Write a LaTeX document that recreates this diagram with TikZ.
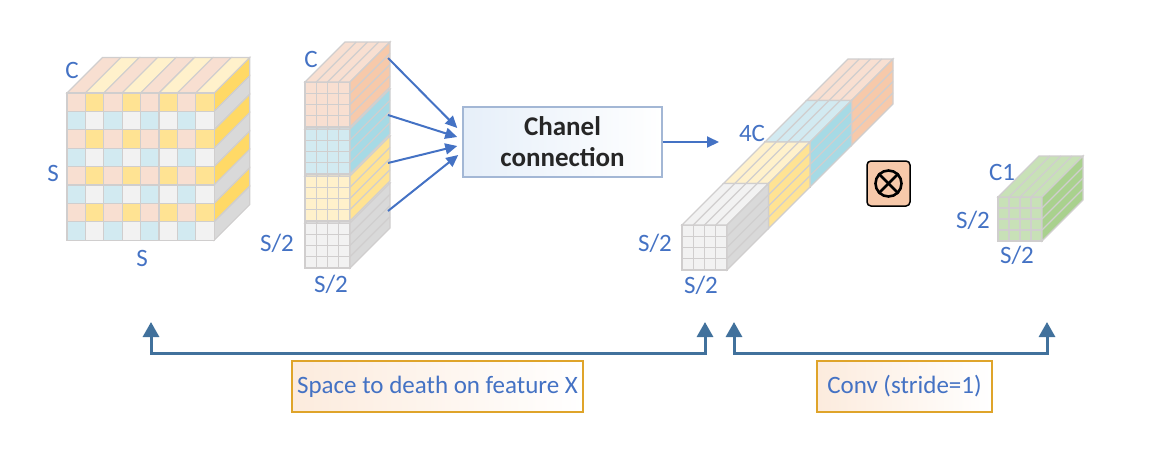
\documentclass[tikz,border=0pt]{standalone}
\usepackage{fontspec}
\setmainfont{Carlito}
\usepackage{tikz}
\usepackage{xcolor}
\usetikzlibrary{arrows.meta,calc}

\definecolor{labelblue}{HTML}{4472C4}
\definecolor{bracketblue}{HTML}{41719C}
\definecolor{gridgray}{HTML}{D0CECE}
\definecolor{boxgold}{HTML}{DFA42A}
\definecolor{boxpeach}{HTML}{FCEBDD}
\definecolor{chanelline}{HTML}{A3B7D5}
\definecolor{chanelfill}{HTML}{E6EFF9}
\definecolor{peach}{HTML}{F8DFD1}
\definecolor{peachside}{HTML}{F7C9AA}
\definecolor{sun}{HTML}{FFE393}
\definecolor{sunlight}{HTML}{FFF1CB}
\definecolor{sunside}{HTML}{FFD966}
\definecolor{sky}{HTML}{D2EAF1}
\definecolor{skyside}{HTML}{A6DAE5}
\definecolor{ash}{HTML}{F2F2F2}
\definecolor{ashside}{HTML}{D9D9D9}
\definecolor{leaf}{HTML}{C8E1B7}
\definecolor{leafside}{HTML}{A9D18E}
\colorlet{cell0}{peach}
\colorlet{cell1}{sun}
\colorlet{cell2}{sky}
\colorlet{cell3}{ash}
\colorlet{strip0}{peach}
\colorlet{strip1}{sunlight}
\colorlet{side0}{sunside}
\colorlet{side1}{ashside}

\tikzset{
    face/.style={draw=gridgray, line width=1.1pt},
    dimlabel/.style={text=labelblue, font=\fontsize{25}{27}\selectfont, inner sep=0pt},
    feed/.style={draw=labelblue, line width=2pt, -{Triangle[width=11pt,length=12pt]}},
    bracket/.style={draw=bracketblue, line width=3pt, {Triangle[width=16pt,length=15pt]}-{Triangle[width=16pt,length=15pt]}},
    stepbox/.style={draw=boxgold, line width=2pt, left color=boxpeach, right color=white, text=labelblue, font=\fontsize{25}{27}\selectfont, minimum height=51pt, inner sep=0pt},
}

% x, y, size, depth, front, top, side
\newcommand{\featblock}[7]{%
    \path[face, fill=#5] (#1,#2) rectangle ++(#3,#3);
    \path[face, fill=#6] (#1,#2) -- ++(#3,0) -- ++(#4,-#4) -- ++(-#3,0) -- cycle;
    \path[face, fill=#7] (#1+#3,#2) -- ++(#4,-#4) -- ++(0,#3) -- ++(-#4,#4) -- cycle;
    \foreach \k in {1,2,3} {
        \draw[face] (#1+\k*#3/4,#2) -- ++(0,#3);
        \draw[face] (#1,#2+\k*#3/4) -- ++(#3,0);
        \draw[face] (#1+\k*#3/4,#2) -- ++(#4,-#4);
        \draw[face] (#1+#3,#2+\k*#3/4) -- ++(#4,-#4);
    }
}

\begin{document}
\begin{tikzpicture}[x=1pt, y=-1pt]
            \useasboundingbox (0,0) rectangle (1168,451);

            \foreach \i in {0,...,7} {
                \pgfmathtruncatemacro\k{mod(\i,2)}
                \path[face, fill=strip\k] (67+\i*18.4,93) -- ++(18.4,0) -- ++(35.5,-35.5) -- ++(-18.4,0) -- cycle;
                \path[face, fill=side\k] (214.2,93+\i*18.4) -- ++(35.5,-35.5) -- ++(0,18.4) -- ++(-35.5,35.5) -- cycle;
                \foreach \j in {0,...,7} {
                    \pgfmathtruncatemacro\c{mod(\i,2)+2*mod(\j,2)}
                    \path[face, fill=cell\c] (67+\i*18.4,93+\j*18.4) rectangle ++(18.4,18.4);
                }
            }

            \featblock{305}{223}{45}{40}{ash}{ash}{ashside}
            \featblock{305}{176}{45}{40}{sunlight}{sunlight}{sun}
            \featblock{305}{129}{45}{40}{sky}{sky}{skyside}
            \featblock{305}{82}{45}{40}{peach}{peach}{peachside}

            \node[draw=chanelline, line width=1.5pt, left color=chanelfill, right color=white, minimum width=199pt, minimum height=70pt, align=center, text=black!85, font=\bfseries\fontsize{27}{31}\selectfont] (chanel) at (562.5,142) {Chanel\\connection};
            \coordinate (s1) at (388,58);
            \coordinate (s2) at (388,115);
            \coordinate (s3) at (388,163);
            \coordinate (s4) at (388,211);
            \draw[feed] (s1) -- ($(chanel.west)+(-5,-14)$);
            \draw[feed] (s2) -- ($(chanel.west)+(-5,-5)$);
            \draw[feed] (s3) -- ($(chanel.west)+(-5,4)$);
            \draw[feed] (s4) -- ($(chanel.west)+(-4,13)$);
            \coordinate (barin) at (719,142);
            \draw[feed] (chanel.east) -- (barin);

            \featblock{806.5}{100.5}{45}{41.5}{peach}{peach}{peachside}
            \featblock{765}{142}{45}{41.5}{sky}{sky}{skyside}
            \featblock{723.5}{183.5}{45}{41.5}{sunlight}{sunlight}{sun}
            \featblock{682}{225}{45}{41.5}{ash}{ash}{ashside}

            \featblock{998}{197}{44}{41}{leaf}{leaf}{leafside}

            \node[draw=black, line width=1.5pt, fill=peachside, rounded corners=4pt, minimum width=43pt, minimum height=45pt] (op) at (888.5,183.5) {};
            \node[draw=black, circle, line width=2.6pt, minimum size=26pt, inner sep=0pt] (opc) at (op) {};
            \draw[line width=2.6pt] (opc.45) -- (opc.225);
            \draw[line width=2.6pt] (opc.135) -- (opc.315);

            \node[dimlabel] (cubeC) at (72,70) {C};
            \node[dimlabel] (cubeSl) at (53,173) {S};
            \node[dimlabel] (cubeSb) at (142,258) {S};
            \node[dimlabel] (stackC) at (311,59) {C};
            \node[dimlabel] (stackSl) at (277,243) {S/2};
            \node[dimlabel] (stackSb) at (331,284) {S/2};
            \node[dimlabel] (barC) at (752,133) {4C};
            \node[dimlabel] (barSl) at (655,243) {S/2};
            \node[dimlabel] (barSb) at (701,285) {S/2};
            \node[dimlabel] (outC) at (1002,172) {C1};
            \node[dimlabel] (outSl) at (973,220) {S/2};
            \node[dimlabel] (outSb) at (1017,255) {S/2};

            \coordinate (t1) at (151,322);
            \coordinate (t2) at (705,322);
            \coordinate (t3) at (734,322);
            \coordinate (t4) at (1047,322);
            \draw[bracket] (t1) -- ++(0,31) -| (t2);
            \draw[bracket] (t3) -- ++(0,31) -| (t4);
            \node[stepbox, minimum width=291pt] (s2d) at (437.5,386.5) {Space to death on feature X};
            \node[stepbox, minimum width=175pt] (conv) at (904.5,386.5) {Conv (stride=1)};
        \end{tikzpicture}
\end{document}
